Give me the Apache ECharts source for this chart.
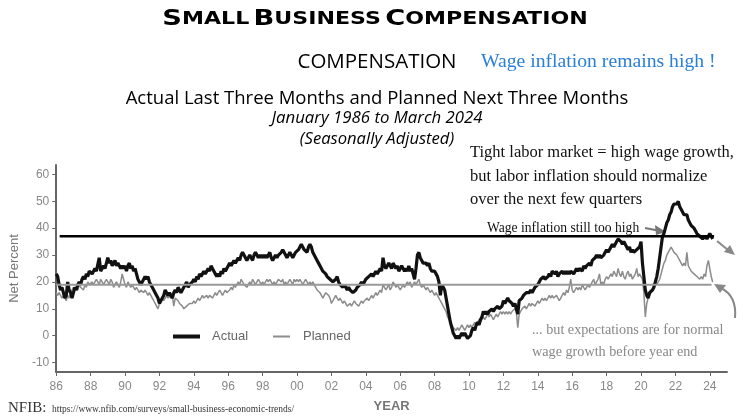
<!DOCTYPE html>
<html>
<head>
<meta charset="utf-8">
<script src="https://cdn.jsdelivr.net/npm/echarts@6/dist/echarts.min.js"></script>
<style>
  html, body { margin: 0; padding: 0; background: #fff; }
  #chart { width: 743px; height: 418px; }
</style>
</head>
<body>
<div id="chart"></div>
<script>
// monthly net percent, Jan 1986 .. Mar 2024 (one row per year)
const startYear = 1986;
const actual = [
  [23, 22, 19, 17, 18, 16, 14, 15, 20, 17, 16, 14],
  [16, 18, 17, 19, 20, 19, 21, 22, 21, 23, 22, 24],
  [24, 23, 24, 25, 24, 24, 29, 24, 25, 26, 25, 27],
  [29, 27, 28, 26, 27, 28, 26, 27, 26, 25, 26, 25],
  [26, 24, 26, 27, 25, 26, 24, 25, 23, 21, 20, 19],
  [20, 21, 22, 21, 22, 20, 19, 18, 17, 16, 15, 14],
  [12, 13, 14, 15, 17, 16, 15, 16, 15, 14, 16, 17],
  [16, 18, 17, 16, 17, 18, 19, 20, 18, 19, 19, 20],
  [21, 20, 22, 21, 23, 22, 23, 24, 23, 24, 25, 24],
  [26, 25, 24, 23, 22, 23, 22, 24, 23, 25, 24, 25],
  [25, 27, 26, 27, 28, 27, 28, 29, 28, 30, 31, 30],
  [29, 28, 29, 30, 29, 28, 30, 31, 30, 29, 30, 29],
  [30, 29, 30, 29, 30, 31, 29, 28, 29, 30, 29, 30],
  [30, 31, 32, 31, 30, 29, 30, 31, 30, 29, 30, 31],
  [31, 32, 32, 34, 33, 32, 32, 31, 33, 34, 33, 31],
  [30, 29, 28, 27, 26, 25, 24, 24, 23, 22, 22, 21],
  [21, 20, 20, 21, 22, 20, 19, 19, 18, 19, 18, 17],
  [18, 17, 17, 16, 16, 17, 18, 18, 19, 20, 19, 20],
  [21, 21, 22, 22, 23, 22, 23, 24, 23, 24, 25, 24],
  [29, 26, 25, 26, 27, 26, 25, 27, 26, 25, 26, 24],
  [25, 26, 25, 24, 25, 24, 26, 24, 25, 23, 21, 25],
  [30, 31, 29, 28, 27, 27, 27, 26, 27, 25, 24, 24],
  [24, 23, 22, 20, 15, 19, 18, 17, 14, 11, 8, 5],
  [3, 1, 0, -1, 0, -1, 0, 1, 0, 1, 0, -1],
  [-1, 0, 2, 3, 2, 4, 5, 4, 6, 7, 9, 8],
  [9, 8, 9, 9, 10, 9, 10, 10, 11, 10, 10, 11],
  [13, 12, 13, 14, 13, 13, 12, 11, 12, 12, 8, 13],
  [13, 14, 15, 15, 16, 16, 16, 17, 16, 17, 18, 18],
  [19, 20, 21, 21, 22, 21, 21, 22, 23, 22, 24, 24],
  [23, 24, 22, 23, 23, 24, 23, 24, 23, 24, 23, 24],
  [24, 23, 24, 25, 24, 25, 25, 24, 26, 25, 26, 26],
  [27, 26, 28, 28, 29, 30, 29, 30, 29, 29, 30, 31],
  [32, 31, 32, 33, 34, 33, 34, 35, 36, 36, 35, 34],
  [35, 34, 33, 32, 33, 31, 32, 31, 31, 32, 32, 33],
  [35, 27, 22, 17, 15, 14, 16, 16, 17, 18, 20, 22],
  [25, 29, 33, 37, 38, 40, 42, 43, 45, 46, 48, 49],
  [49, 49, 50, 48, 47, 46, 45, 45, 45, 43, 42, 41],
  [41, 40, 39, 38, 38, 37, 37, 36, 36, 37, 36, 37],
  [38, 37, 36]
];
const planned = [
  [16, 15, 16, 15, 14, 15, 14, 13, 15, 14, 16, 17],
  [18, 17, 18, 17, 19, 18, 18, 17, 19, 18, 20, 19],
  [19, 20, 19, 20, 21, 20, 19, 21, 20, 19, 20, 21],
  [20, 19, 21, 20, 18, 19, 20, 19, 18, 20, 23, 21],
  [19, 18, 20, 19, 18, 19, 18, 17, 18, 17, 16, 17],
  [17, 16, 17, 16, 15, 16, 15, 14, 13, 12, 11, 10],
  [12, 13, 14, 13, 14, 15, 14, 15, 14, 15, 11, 14],
  [14, 13, 12, 12, 11, 10, 10, 11, 11, 12, 12, 12],
  [13, 12, 13, 14, 13, 14, 15, 14, 14, 15, 14, 15],
  [15, 14, 15, 16, 15, 15, 17, 16, 15, 16, 17, 16],
  [16, 17, 18, 17, 19, 18, 19, 20, 19, 21, 20, 19],
  [19, 18, 19, 20, 19, 21, 20, 19, 20, 21, 20, 19],
  [20, 19, 20, 21, 20, 21, 20, 19, 20, 19, 20, 21],
  [21, 20, 21, 19, 20, 19, 20, 21, 20, 19, 21, 20],
  [21, 20, 21, 20, 19, 20, 21, 20, 19, 20, 19, 20],
  [19, 18, 17, 17, 16, 15, 14, 15, 16, 16, 15, 14],
  [12, 13, 14, 15, 14, 13, 14, 13, 12, 13, 12, 11],
  [11, 12, 11, 12, 13, 12, 12, 11, 12, 13, 12, 13],
  [13, 14, 13, 14, 15, 14, 15, 16, 15, 16, 17, 16],
  [19, 18, 17, 18, 19, 17, 18, 20, 19, 18, 19, 18],
  [17, 18, 19, 18, 19, 20, 19, 20, 18, 19, 20, 19],
  [20, 21, 19, 18, 19, 18, 17, 18, 17, 16, 17, 16],
  [15, 16, 15, 14, 13, 12, 11, 10, 9, 7, 6, 5],
  [4, 3, 3, 2, 3, 2, 3, 4, 3, 2, 3, 4],
  [3, 4, 3, 4, 5, 4, 5, 6, 5, 6, 7, 6],
  [7, 8, 7, 8, 7, 6, 7, 8, 7, 8, 9, 8],
  [9, 8, 9, 8, 9, 8, 9, 9, 10, 9, 3, 8],
  [9, 10, 10, 11, 10, 11, 12, 11, 12, 12, 11, 12],
  [13, 12, 13, 14, 13, 14, 13, 14, 15, 14, 15, 14],
  [14, 15, 14, 13, 14, 15, 16, 15, 17, 16, 18, 21],
  [17, 16, 17, 18, 17, 18, 17, 19, 18, 17, 18, 19],
  [18, 19, 20, 21, 19, 20, 21, 23, 19, 20, 19, 21],
  [22, 21, 22, 23, 22, 24, 23, 22, 25, 23, 22, 24],
  [22, 21, 23, 24, 22, 23, 21, 22, 23, 25, 22, 23],
  [22, 21, 16, 7, 12, 14, 15, 16, 17, 19, 20, 19],
  [19, 21, 23, 25, 27, 28, 30, 31, 32, 33, 32, 31],
  [31, 30, 29, 28, 27, 26, 27, 26, 31, 26, 25, 24],
  [24, 23, 23, 22, 22, 21, 22, 21, 23, 22, 26, 28],
  [25, 22, 20]
];
// reference levels drawn across the chart
const highLevel = 37;
const normalLevel = 19;
const yTicks = [-10, 0, 10, 20, 30, 40, 50, 60];

function toSeries(rows) {
  const out = [];
  rows.forEach((row, y) => row.forEach((v, m) => out.push([startYear + y + m / 12, v])));
  return out;
}

const chart = echarts.init(document.getElementById('chart'));
const serif = '"Liberation Serif", "Times New Roman", serif';
const sans = '"Open Sans", sans-serif';
const arial = '"Liberation Sans", Arial, sans-serif';

const option = {
  animation: false,
  grid: { left: 55, right: 16, top: 165, bottom: 46 },
  xAxis: {
    type: 'value', min: 1986, max: 2025, interval: 2,
    name: 'YEAR', nameLocation: 'middle', nameGap: 28,
    nameTextStyle: { color: '#777', fontFamily: arial, fontWeight: 'bold', fontSize: 13 },
    axisLine: { onZero: false, lineStyle: { color: '#666', width: 2 } },
    axisTick: { length: 4, lineStyle: { color: '#666' } },
    axisLabel: {
      color: '#888', fontFamily: arial, fontSize: 12, margin: 9, showMaxLabel: false,
      formatter: v => String(v % 100).padStart(2, '0')
    },
    splitLine: { show: false }
  },
  yAxis: {
    type: 'value', min: -13.5, max: 63.5,
    name: 'Net Percent', nameLocation: 'middle', nameGap: 32, nameRotate: 90,
    nameTextStyle: { color: '#777', fontFamily: arial, fontSize: 13 },
    axisLine: { show: true, onZero: false, lineStyle: { color: '#666', width: 2 } },
    axisTick: { show: true, length: 4, customValues: yTicks, lineStyle: { color: '#666' } },
    axisLabel: { color: '#888', fontFamily: arial, fontSize: 12, margin: 7, customValues: yTicks },
    splitLine: { show: false }
  },
  legend: [
    {
      data: ['Actual'], left: 173, top: 330, padding: 0, itemWidth: 27, itemHeight: 4, itemGap: 10,
      icon: 'rect', textStyle: { color: '#666', fontFamily: arial, fontSize: 13, padding: [0, 0, 0, 7] }
    },
    {
      data: ['Planned'], left: 273, top: 330, padding: 0, itemWidth: 17, itemHeight: 2, itemGap: 10,
      icon: 'rect', textStyle: { color: '#666', fontFamily: arial, fontSize: 13, padding: [0, 0, 0, 8] }
    }
  ],
  series: [
    {
      name: 'Planned', type: 'line', data: toSeries(planned), showSymbol: false,
      lineStyle: { color: '#8c8c8c', width: 1.5 }, itemStyle: { color: '#8c8c8c' }, z: 2
    },
    {
      name: 'Actual', type: 'line', data: toSeries(actual), showSymbol: false,
      lineStyle: { color: '#111', width: 3.2 }, itemStyle: { color: '#111' }, z: 3
    },
    {
      name: 'high', type: 'line', data: [[1986.2, highLevel], [2024.25, highLevel]],
      showSymbol: false, lineStyle: { color: '#000', width: 2.5 }, z: 4, silent: true
    },
    {
      name: 'normal', type: 'line', data: [[1986, normalLevel], [2024.1, normalLevel]],
      showSymbol: false, lineStyle: { color: '#999', width: 2 }, z: 4, silent: true
    }
  ],
  graphic: [
    {
      type: 'text', x: 375, y: 20, scaleX: 1.3,
      style: {
        text: '{a|S}{b|MALL} {a|B}{b|USINESS} {a|C}{b|OMPENSATION}',
        align: 'center', verticalAlign: 'middle',
        rich: {
          a: { fontFamily: '"DejaVu Sans"', fontWeight: 'bold', fontSize: 21, fill: '#000' },
          b: { fontFamily: '"DejaVu Sans"', fontWeight: 'bold', fontSize: 17, fill: '#000' }
        }
      }
    },
    { type: 'text', x: 377, y: 62, style: { text: 'COMPENSATION', fontFamily: sans, fontSize: 20.5, fill: '#000', align: 'center', verticalAlign: 'middle' } },
    { type: 'text', x: 481, y: 62, style: { text: 'Wage inflation remains high !', fontFamily: serif, fontSize: 19.7, fill: '#2b7ed6', align: 'left', verticalAlign: 'middle' } },
    { type: 'text', x: 377, y: 99, style: { text: 'Actual Last Three Months and Planned Next Three Months', fontFamily: sans, fontSize: 18.5, fill: '#000', align: 'center', verticalAlign: 'middle' } },
    { type: 'text', x: 377, y: 118, style: { text: 'January 1986 to March 2024', fontFamily: sans, fontStyle: 'italic', fontSize: 16.8, fill: '#000', align: 'center', verticalAlign: 'middle' } },
    { type: 'text', x: 377, y: 139, style: { text: '(Seasonally Adjusted)', fontFamily: sans, fontStyle: 'italic', fontSize: 16.6, fill: '#000', align: 'center', verticalAlign: 'middle' } },
    { type: 'text', x: 470, y: 153, style: { text: 'Tight labor market = high wage growth,', fontFamily: serif, fontSize: 16.5, fill: '#111', verticalAlign: 'middle' } },
    { type: 'text', x: 470, y: 177, style: { text: 'but labor inflation should normalize', fontFamily: serif, fontSize: 16.5, fill: '#111', verticalAlign: 'middle' } },
    { type: 'text', x: 470, y: 200, style: { text: 'over the next few quarters', fontFamily: serif, fontSize: 16.5, fill: '#111', verticalAlign: 'middle' } },
    { type: 'text', x: 487, y: 228, style: { text: 'Wage inflation still too high', fontFamily: serif, fontSize: 13.6, fill: '#111', verticalAlign: 'middle' } },
    { type: 'text', x: 532, y: 330, style: { text: '... but expectations are for normal', fontFamily: serif, fontSize: 14.2, fill: '#888', verticalAlign: 'middle' } },
    { type: 'text', x: 532, y: 352, style: { text: 'wage growth before year end', fontFamily: serif, fontSize: 14.2, fill: '#888', verticalAlign: 'middle' } },
    { type: 'text', x: 8, y: 408, style: { text: 'NFIB:', fontFamily: serif, fontSize: 15, fill: '#333', verticalAlign: 'middle' } },
    { type: 'text', x: 52, y: 409, style: { text: 'https://www.nfib.com/surveys/small-business-economic-trends/', fontFamily: serif, fontSize: 9.5, fill: '#333', verticalAlign: 'middle' } },
    // arrows
    { type: 'line', shape: { x1: 645, y1: 228, x2: 658, y2: 230.5 }, style: { stroke: '#777', lineWidth: 2 } },
    { type: 'polygon', shape: { points: [[666, 232], [655, 225], [656, 235]] }, style: { fill: '#777' } },
    { type: 'line', shape: { x1: 717, y1: 241, x2: 728, y2: 250 }, style: { stroke: '#888', lineWidth: 2 } },
    { type: 'polygon', shape: { points: [[735, 255], [724, 252], [730, 245]] }, style: { fill: '#888' } },
    { type: 'bezierCurve', shape: { x1: 735, y1: 318, cpx1: 737, cpy1: 296, x2: 721, y2: 288 }, style: { stroke: '#888', lineWidth: 2, fill: null } },
    { type: 'polygon', shape: { points: [[714, 284], [726, 285], [720, 293]] }, style: { fill: '#888' } }
  ]
};
chart.setOption(option);
</script>
</body>
</html>
